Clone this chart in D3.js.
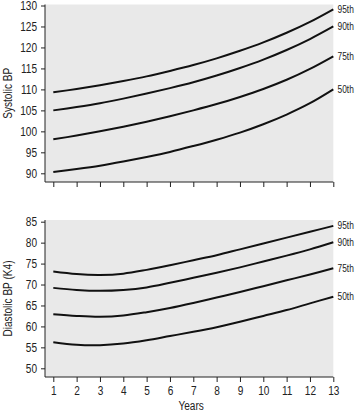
<!DOCTYPE html>
<html><head><meta charset="utf-8">
<script src="https://cdn.jsdelivr.net/npm/d3@7"></script>
<style>body{margin:0;background:#fff}svg{display:block}text{font-family:"Liberation Sans",Arial,sans-serif;fill:#222}</style>
</head><body><svg id="c" width="355" height="413"></svg>
<script>
const years = [1,2,3,4,5,6,7,8,9,10,11,12,13];
const percentiles = ["95th","90th","75th","50th"];
const systolic95 = [109.3,110.1,111.0,112.0,113.1,114.4,115.8,117.4,119.2,121.2,123.5,126.1,129.1];
const systolic90 = [105.0,105.8,106.7,107.8,109.0,110.3,111.7,113.3,115.1,117.1,119.4,122.0,125.0];
const systolic75 = [98.1,99.0,100.0,101.1,102.3,103.6,105.0,106.5,108.2,110.1,112.3,114.9,117.9];
const systolic50 = [90.3,91.0,91.8,92.8,93.9,95.1,96.5,98.0,99.7,101.7,104.0,106.7,110.0];
const diastolic95 = [73.1,72.5,72.3,72.6,73.5,74.6,75.8,77.0,78.4,79.8,81.2,82.6,84.0];
const diastolic90 = [69.2,68.7,68.5,68.7,69.3,70.4,71.6,72.8,74.1,75.5,76.9,78.4,80.1];
const diastolic75 = [62.9,62.5,62.3,62.6,63.4,64.4,65.6,66.9,68.2,69.6,71.0,72.4,73.9];
const diastolic50 = [56.2,55.6,55.5,55.9,56.7,57.7,58.7,59.8,61.1,62.5,63.9,65.5,67.1];
const systolicTicks = [90,95,100,105,110,115,120,125,130];
const diastolicTicks = [50,55,60,65,70,75,80,85];

const svg = d3.select("#c");
const x = d3.scaleLinear().domain([1,13]).range([53.3,333.3]);
const left = 45, right = 333.3;

function panel(cfg){
  const g = svg.append("g");
  const y = d3.scaleLinear().domain(cfg.domain).range(cfg.range);
  g.append("rect").attr("x",left).attr("y",cfg.top).attr("width",right-left).attr("height",cfg.bottom-cfg.top).attr("fill","#e9e9e9");
  const ya = g.append("g").attr("transform",`translate(${left},0)`)
    .call(d3.axisLeft(y).tickValues(cfg.ticks).tickSize(4).tickPadding(4).tickFormat(d3.format("d")));
  ya.select(".domain").attr("d",`M0,${cfg.top}V${cfg.bottom}`);
  const xa = g.append("g").attr("transform",`translate(0,${cfg.bottom})`)
    .call(d3.axisBottom(x).tickValues(years).tickSize(5).tickPadding(4).tickFormat(cfg.xlabels ? d3.format("d") : ""));
  xa.select(".domain").attr("d",`M${left},0H${right}`);
  g.selectAll(".tick text").style("font-size","12px").style("font-family",null).attr("fill","#222").classed("cond",true);
  g.selectAll(".domain,.tick line").attr("stroke","#222");
  const line = d3.line().x((d,i)=>x(years[i])).y(d=>y(d)).curve(d3.curveCatmullRom);
  cfg.series.forEach((s,k)=>{
    g.append("path").datum(s).attr("d",line).attr("fill","none").attr("stroke","#111").attr("stroke-width",2);
    g.append("text").attr("transform",`translate(337.5,${y(s[s.length-1])}) scale(0.84,1)`)
      .attr("dy","0.35em").style("font-size","10px").text(percentiles[k]);
  });
  g.append("text").attr("class","cond").attr("transform",`translate(8,${(cfg.top+cfg.bottom)/2}) rotate(-90)`).attr("text-anchor","middle").attr("dy","0.35em").style("font-size","12px").text(cfg.title);
}

panel({domain:[90,130],range:[173.3,5.5],top:4.5,bottom:182,ticks:systolicTicks,xlabels:false,
  series:[systolic95,systolic90,systolic75,systolic50],title:"Systolic BP"});
panel({domain:[50,85],range:[368.3,221.7],top:220,bottom:377,ticks:diastolicTicks,xlabels:true,
  series:[diastolic95,diastolic90,diastolic75,diastolic50],title:"Diastolic BP (K4)"});
svg.append("text").attr("class","cond").attr("x",(left+right)/2+2).attr("y",406).attr("text-anchor","middle").attr("dy","0.35em").style("font-size","12px").text("Years");

// condense text to mimic the narrow typeface of the original
svg.selectAll("text.cond").each(function(){
  if(!this.textContent) return;
  const w = this.getComputedTextLength();
  d3.select(this).attr("textLength", w*0.84).attr("lengthAdjust","spacingAndGlyphs");
});
</script></body></html>
